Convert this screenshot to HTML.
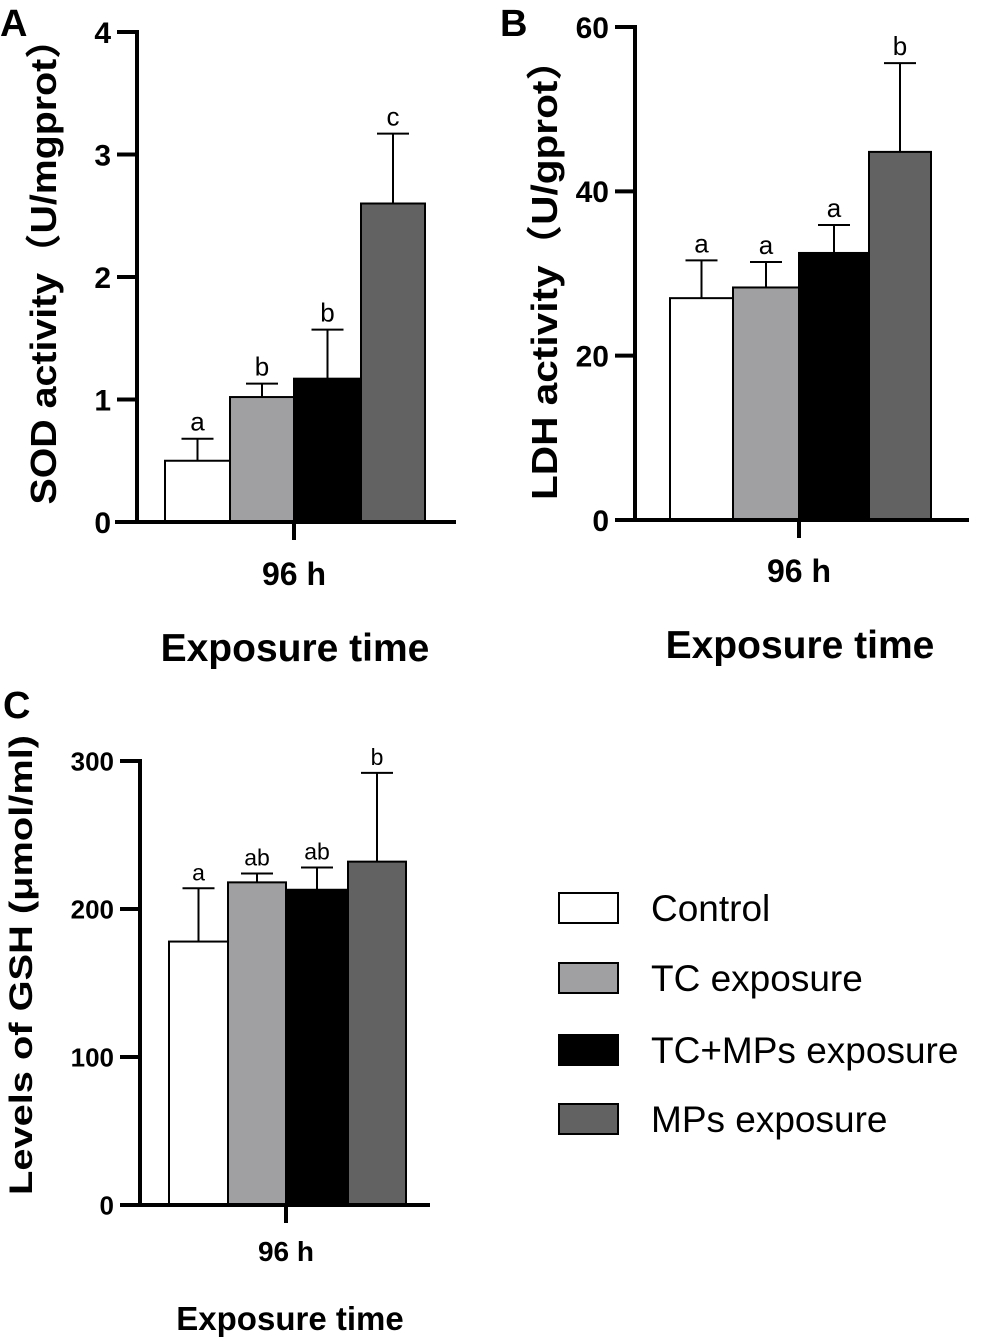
<!DOCTYPE html>
<html><head><meta charset="utf-8"><style>
html,body{margin:0;padding:0;background:#fff}
svg{display:block;font-family:"Liberation Sans","Noto Sans CJK SC",Arial,sans-serif}
</style></head><body>
<svg id="fig" width="982" height="1340" viewBox="0 0 982 1340">
<text x="0" y="36" font-size="38" font-weight="bold">A</text>
<text x="500" y="36" font-size="38" font-weight="bold">B</text>
<text x="3" y="718" font-size="38" font-weight="bold">C</text>
<g>
<rect x="559" y="893" width="59" height="30" fill="#fff" stroke="#000" stroke-width="2"/>
<text x="651" y="921" font-size="37">Control</text>
<rect x="559" y="963" width="59" height="30" fill="#a0a0a2" stroke="#000" stroke-width="2"/>
<text x="651" y="991" font-size="37">TC exposure</text>
<rect x="559" y="1035" width="59" height="30" fill="#000" stroke="#000" stroke-width="2"/>
<text x="651" y="1063" font-size="37">TC+MPs exposure</text>
<rect x="559" y="1104" width="59" height="30" fill="#626262" stroke="#000" stroke-width="2"/>
<text x="651" y="1132" font-size="37">MPs exposure</text>
</g>
</svg>
<script>
const groups = ["Control","TC exposure","TC+MPs exposure","MPs exposure"];
const colors = ["#ffffff","#a0a0a2","#000000","#626262"];
const sodValues = [0.5, 1.02, 1.17, 2.6];
const sodErrors = [0.68, 1.13, 1.57, 3.17];
const sodLetters = ["a","b","b","c"];
const sodTicks = [0,1,2,3,4];
const ldhValues = [27.0, 28.3, 32.5, 44.8];
const ldhErrors = [31.6, 31.4, 35.9, 55.6];
const ldhLetters = ["a","a","a","b"];
const ldhTicks = [0,20,40,60];
const gshValues = [178, 218, 213, 232];
const gshErrors = [214, 224, 228, 292];
const gshLetters = ["a","ab","ab","b"];
const gshTicks = [0,100,200,300];

const NS="http://www.w3.org/2000/svg";
const svg=document.getElementById('fig');
function mk(tag,attrs,parent){const e=document.createElementNS(NS,tag);for(const k in attrs)e.setAttribute(k,attrs[k]);(parent||svg).appendChild(e);return e;}

function panel(p){
  const g=mk('g',{});
  
  
  const y=v=>p.y0-(v-p.min)/(p.max-p.min)*(p.y0-p.y1);
  p.vals.forEach((v,i)=>{
    const x0=p.bx[i], x1=p.bx[i+1], cx=(x0+x1)/2;
    const eT=y(p.errs[i]);
    const el=mk('line',{x1:cx,x2:cx,y1:y(v),y2:eT,stroke:'#000','stroke-width':2},g);
    
    
    const cap=mk('line',{x1:cx-16,x2:cx+16,y1:eT,y2:eT,stroke:'#000','stroke-width':2},g);
    
    
    const r=mk('rect',{x:x0,y:y(v),width:x1-x0,height:p.y0-y(v),fill:colors[i],stroke:'#000','stroke-width':2},g);
    
    
    const t=mk('text',{x:cx,y:eT-8,'font-size':p.lfs,'text-anchor':'middle'},g);
    t.textContent=p.letters[i];
    
    
  });
  const ya=mk('line',{x1:p.ax,x2:p.ax,y1:p.y1-2,y2:p.y0+2,stroke:'#000','stroke-width':4},g);
  
  
  const xa=mk('line',{x1:p.xl,x2:p.xr,y1:p.y0,y2:p.y0,stroke:'#000','stroke-width':4},g);
  
  
  const xt=mk('line',{x1:p.bx[2],x2:p.bx[2],y1:p.y0,y2:p.y0+18,stroke:'#000','stroke-width':4},g);
  
  
  p.ticks.forEach(v=>{
    const tl=mk('line',{x1:p.ax-20,x2:p.ax,y1:y(v),y2:y(v),stroke:'#000','stroke-width':4},g);
    
    
    const tt=mk('text',{x:p.ax-26,y:y(v)+p.tfs*0.36,'font-size':p.tfs,'font-weight':'bold','text-anchor':'end'},g);
    tt.textContent=v;
    
    
  });
  const cx=p.bx[2];
  const h=mk('text',{x:cx,y:p.y0+p.hy,'font-size':p.hfs,'font-weight':'bold','text-anchor':'middle'},g);
  h.textContent='96 h';
  
  
  const xtt=mk('text',{x:p.xtx,y:p.y0+p.xty,'font-size':p.xfs,'font-weight':'bold','text-anchor':'middle'},g);
  xtt.textContent='Exposure time';
  
  
  const yt=mk('text',{x:0,y:0,'font-size':p.yfs,'font-weight':'bold','text-anchor':'middle',textLength:p.ylen,lengthAdjust:'spacingAndGlyphs',transform:`translate(${p.ytx},${p.ytc}) rotate(-90)`},g);
  yt.textContent=p.ytitle;
  
  
}

panel({name:'panel-a-sod',vals:sodValues,errs:sodErrors,letters:sodLetters,ticks:sodTicks,min:0,max:4,
  y0:522,y1:32,ax:137,xl:115,xr:456,bx:[165,230,294,361,425],tfs:30,lfs:26,hfs:32,hy:63,xty:139,xtx:295,xfs:39,yfs:36,ytx:56,ytc:262,ylen:485,
  ytitle:'SOD activity\uFF08U/mgprot\uFF09'});
panel({name:'panel-b-ldh',vals:ldhValues,errs:ldhErrors,letters:ldhLetters,ticks:ldhTicks,min:0,max:60,
  y0:520,y1:27,ax:635,xl:615,xr:969,bx:[670,733,799,869,931],tfs:30,lfs:26,hfs:32,hy:62,xty:138,xtx:800,xfs:39,yfs:36,ytx:557,ytc:270,ylen:460,
  ytitle:'LDH activity\uFF08U/gprot\uFF09'});
panel({name:'panel-c-gsh',vals:gshValues,errs:gshErrors,letters:gshLetters,ticks:gshTicks,min:0,max:300,
  y0:1205,y1:761,ax:140,xl:120,xr:430,bx:[169,228,286,348,406],tfs:26,lfs:23,hfs:28,hy:56,xty:125,xtx:290,xfs:33,yfs:32,ytx:32,ytc:965,ylen:460,
  ytitle:'Levels of GSH (\u03BCmol/ml)'});
</script>
</body></html>
